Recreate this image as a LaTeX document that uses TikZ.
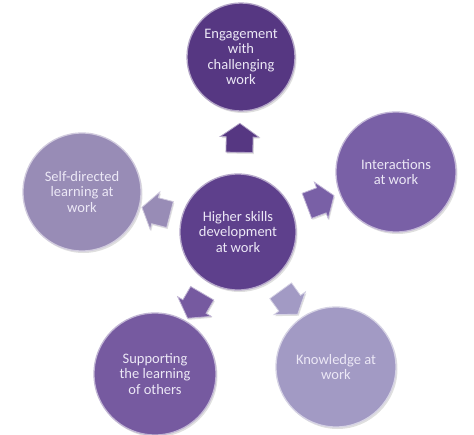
\documentclass[tikz,border=0pt]{standalone}
\usepackage{fontspec}
\setmainfont{Carlito}
\usetikzlibrary{shapes.arrows,shadows}

\definecolor{plumdeep}{RGB}{86,55,130}
\definecolor{plumcore}{RGB}{94,64,140}
\definecolor{plummid}{RGB}{121,96,166}
\definecolor{plumsoft}{RGB}{118,90,160}
\definecolor{plumpale}{RGB}{152,140,182}
\definecolor{plummist}{RGB}{162,154,196}
\definecolor{bubbletext}{RGB}{236,232,246}

\tikzset{
  bubble/.style={circle, inner sep=0pt, align=center, text=bubbletext,
    font=\fontsize{14.5}{15.5}\selectfont, fill=#1, draw=white!55!#1,
    line width=1.3pt,
    drop shadow={shadow xshift=1.5pt, shadow yshift=-2pt, opacity=0.25}},
  blockarrow/.style={single arrow, single arrow tip angle=110,
    single arrow head extend=6pt, minimum height=29pt,
    inner xsep=0pt, inner ysep=13pt, fill=#1, draw=white!55!#1,
    line width=0.8pt, sloped, allow upside down,
    drop shadow={shadow xshift=1pt, shadow yshift=-1.5pt, opacity=0.25}},
}

\begin{document}
\begin{tikzpicture}[x=1pt, y=-1pt]
    \useasboundingbox (0,0) rectangle (474,434);

    % Vong tron trung tam va cac vong xung quanh
    \node[bubble=plumcore, minimum size=116pt] (core) at (238,232)
        {Higher skills\\development\\at work};
    \node[bubble=plumdeep, minimum size=108pt] (engage) at (241,57)
        {Engagement\\with\\challenging\\work};
    \node[bubble=plummid, minimum size=120pt] (inter) at (396,172)
        {Interactions\\at work};
    \node[bubble=plummist, minimum size=120pt] (know) at (336,367)
        {Knowledge at\\work};
    \node[bubble=plumsoft, minimum size=122pt] (support) at (155,374)
        {Supporting\\the learning\\of others};
    \node[bubble=plumpale, minimum size=118pt] (selfdir) at (82,192)
        {Self-directed\\learning at\\work};

    % Mui ten khoi
    \path (core) -- (engage) node[midway, blockarrow=plumdeep] (toengage) {};
    \path (core) -- (inter) node[midway, blockarrow=plummid] (tointer) {};
    \path (core) -- (know) node[midway, blockarrow=plummist] (toknow) {};
    \path (core) -- (support) node[midway, blockarrow=plumsoft] (tosupport) {};
    \path (core) -- (selfdir) node[midway, blockarrow=plumpale] (toselfdir) {};
\end{tikzpicture}
\end{document}
